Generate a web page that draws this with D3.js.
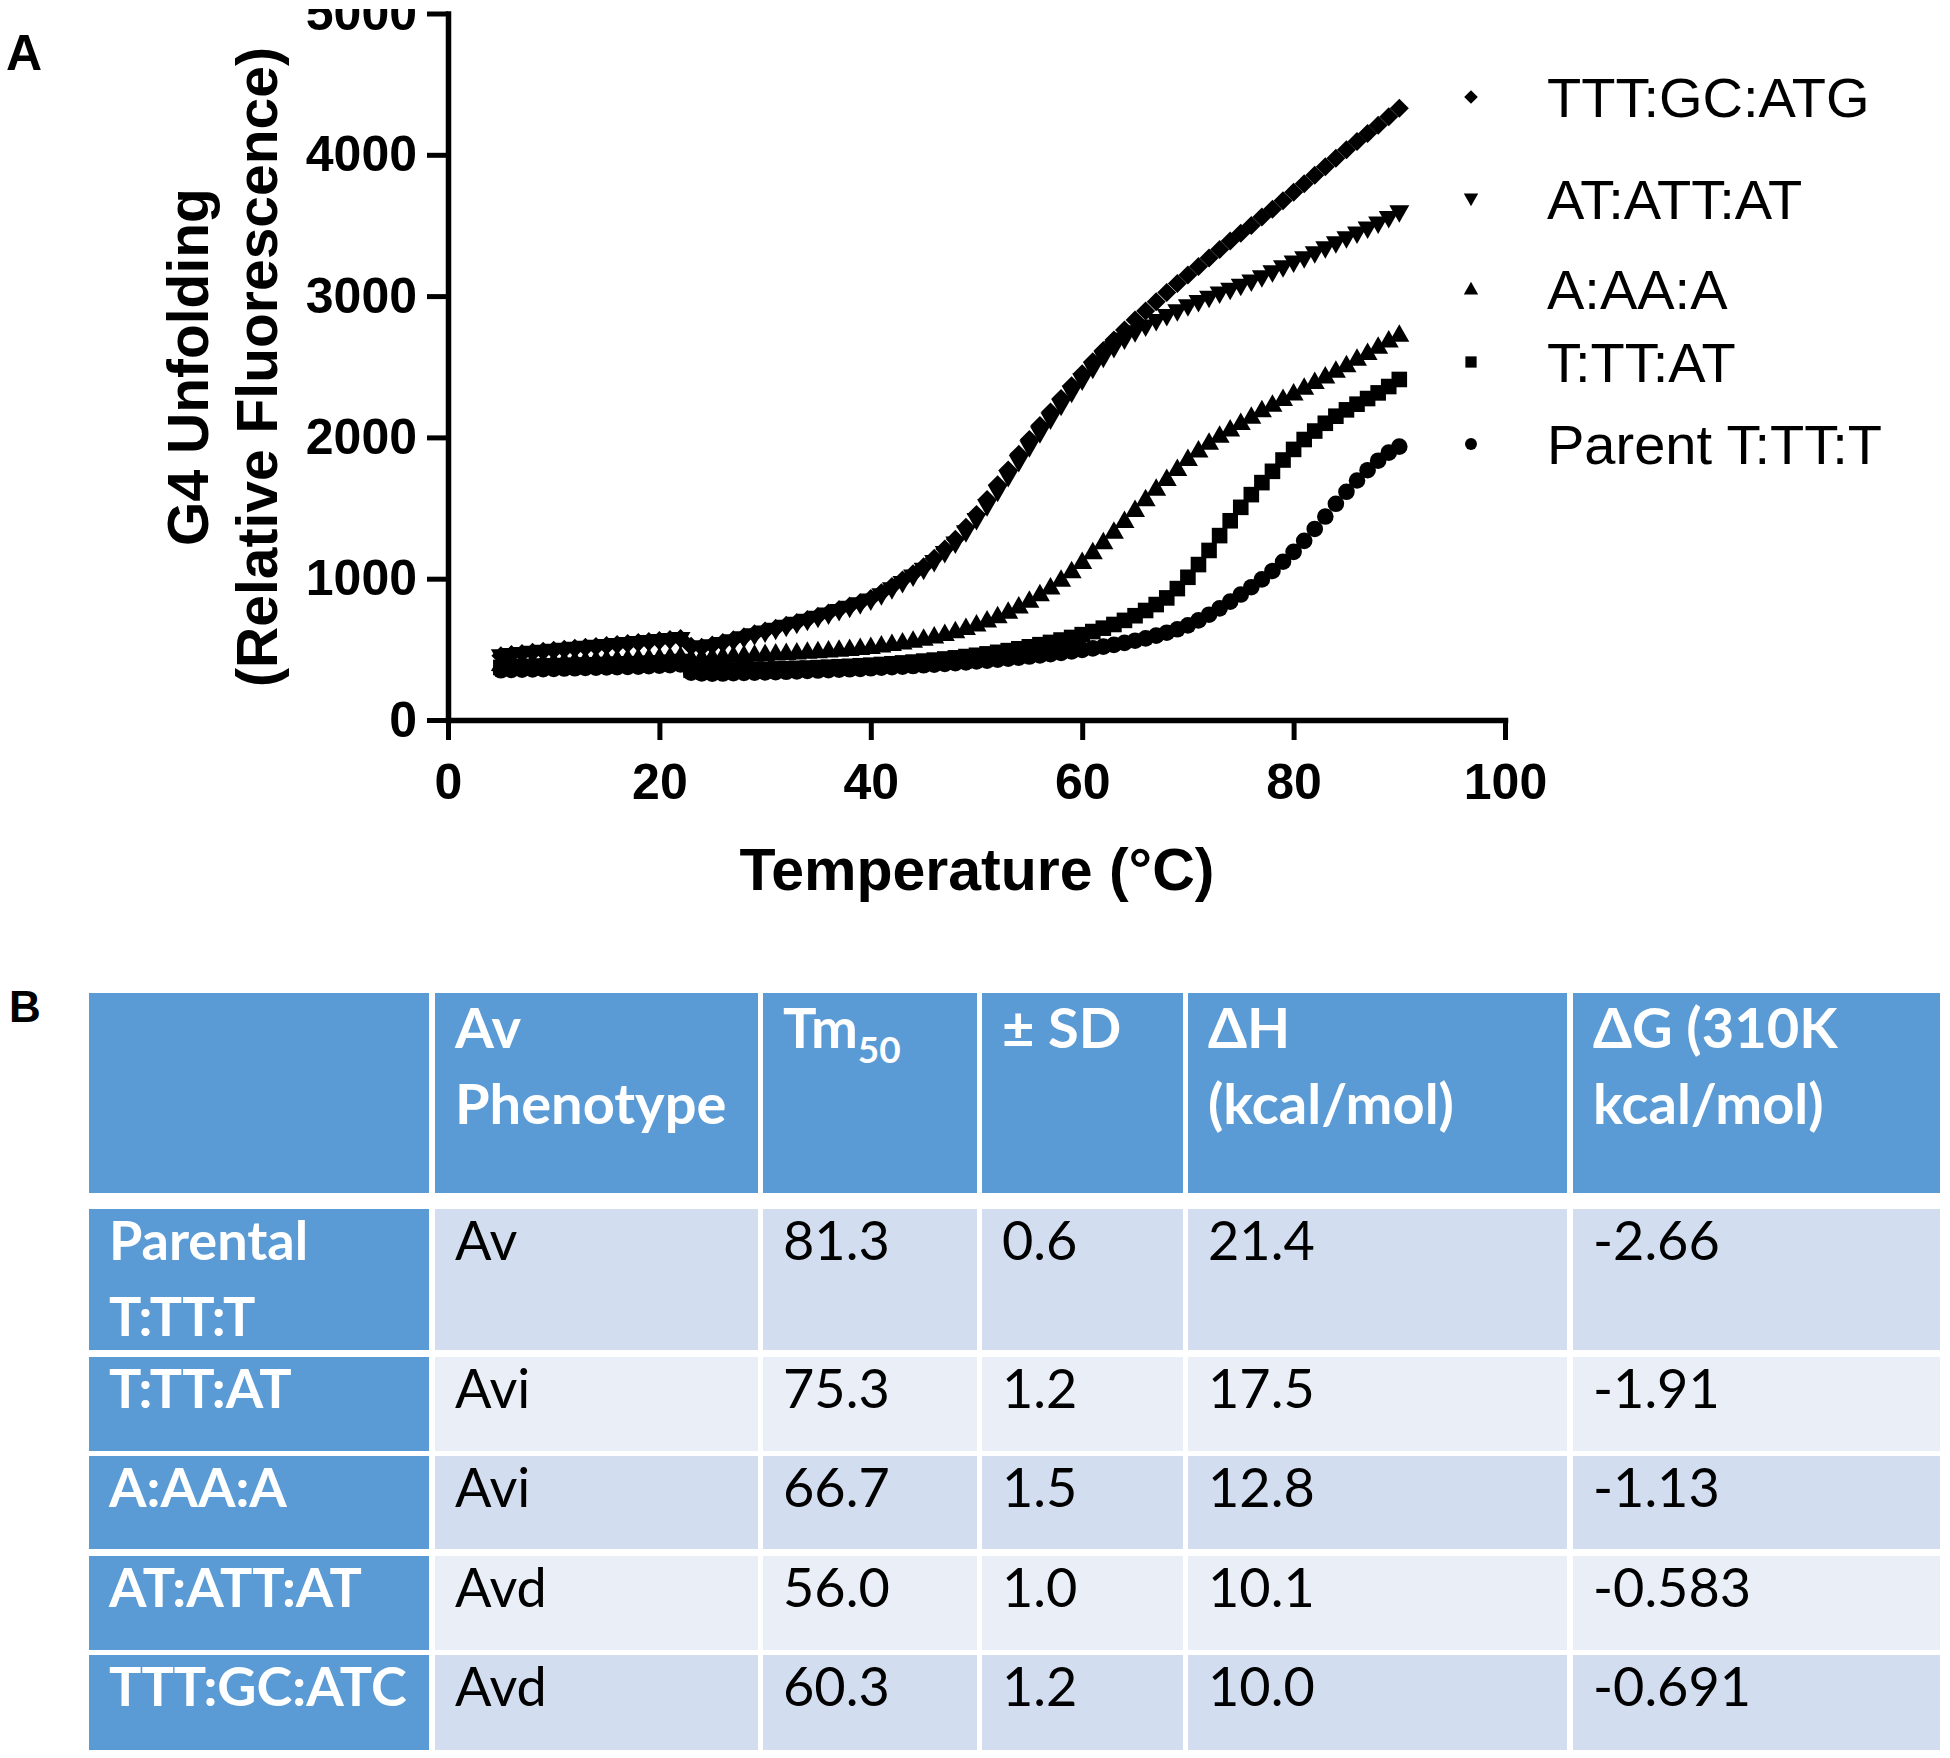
<!DOCTYPE html>
<html><head><meta charset="utf-8">
<script src="https://cdn.jsdelivr.net/npm/d3@7"></script>
<style>
html,body{margin:0;padding:0;background:#fff;}
svg{display:block;}
</style></head><body>
<svg id="chart" width="1950" height="1758"></svg>
<script>
// ---------------- DATA ----------------
const temps = [5,6,7,8,9,10,11,12,13,14,15,16,17,18,19,20,21,22,23,24,25,26,27,28,29,30,31,32,33,34,35,36,37,38,39,40,41,42,43,44,45,46,47,48,49,50,51,52,53,54,55,56,57,58,59,60,61,62,63,64,65,66,67,68,69,70,71,72,73,74,75,76,77,78,79,80,81,82,83,84,85,86,87,88,89,90];

const seriesNames = ["TTT:GC:ATG", "AT:ATT:AT", "A:AA:A", "T:TT:AT", "Parent T:TT:T"];
const seriesSymbols = ["diamond", "triangleDown", "triangleUp", "square", "circle"];

const tttGcAtg = [455,463,471,479,486,493,500,507,514,521,528,535,542,549,556,563,570,577,
  522,515,530,548,568,590,610,630,650,670,690,712,735,758,782,806,832,
  860,900,945,990,1035,1085,1145,1210,1280,1365,1455,1560,1665,1770,1880,1985,2085,2180,2275,2365,2450,2535,2615,2690,2760,2830,2895,2960,3025,3090,3150,3210,3270,3330,3390,3445,3500,3560,3615,3675,3735,3795,3855,3915,3975,4035,4095,4150,4210,4270,4330];

const atAttAt = [448,456,464,472,479,486,493,500,507,514,521,528,535,542,549,556,563,570,
  512,506,518,535,554,575,596,616,636,656,677,698,720,743,767,791,816,
  843,880,922,966,1012,1060,1115,1178,1246,1325,1412,1510,1612,1716,1822,1926,2026,2124,2220,2312,2400,2483,
  2560,2630,2690,2740,2782,2820,2855,2890,2925,2955,2985,3015,3042,3070,3100,3130,3165,3200,3235,3265,3300,3335,3370,3405,3440,3475,3510,3550,3590];

const aAaA = [400,404,407,410,413,416,419,422,425,428,431,434,437,440,443,446,450,455,
  440,445,450,454,458,462,466,470,474,478,482,486,490,495,500,506,513,520,530,541,552,564,
  578,594,612,632,655,680,707,737,770,807,848,893,942,996,1056,1121,1190,1262,1336,1412,1490,1565,1640,1710,1780,1850,1910,1965,2015,2060,2105,2150,2195,2235,2275,2315,2355,2395,2435,2475,2515,2560,2600,2645,2690,2730];

const tTtAt = [372,375,377,379,381,383,385,387,389,391,393,395,397,399,402,405,409,414,
  352,350,350,352,354,356,358,360,362,364,366,368,371,374,377,380,384,388,393,398,404,410,417,424,432,440,449,458,468,479,491,504,518,533,549,566,584,604,626,650,676,705,738,775,817,864,
  930,1010,1100,1200,1305,1410,1505,1595,1680,1760,1840,1915,1985,2045,2100,2150,2195,2235,2275,2315,2360,2410];

const parentTTtT = [352,354,356,358,360,362,364,366,368,370,372,374,376,378,381,384,388,393,
  335,330,328,329,331,333,335,337,339,341,344,347,350,353,356,359,362,366,370,374,378,382,387,392,397,402,408,414,420,427,434,441,449,457,466,475,485,496,507,519,532,546,561,578,597,618,642,
  670,705,745,790,838,888,940,995,1055,1120,1190,1268,1352,1440,1530,1615,1695,1768,1835,1892,1935];

const seriesValues = [tttGcAtg, atAttAt, aAaA, tTtAt, parentTTtT];

const xTicks = [0, 20, 40, 60, 80, 100];
const yTicks = [0, 1000, 2000, 3000, 4000, 5000];
const xTitle = "Temperature (°C)";
const yTitleLines = ["G4 Unfolding", "(Relative Fluorescence)"];

// table data
const tableHeaders = ["", "Av|Phenotype", "Tm_50", "± SD", "ΔH|(kcal/mol)", "ΔG (310K|kcal/mol)"];
const rowLabels = ["Parental|T:TT:T", "T:TT:AT", "A:AA:A", "AT:ATT:AT", "TTT:GC:ATC"];
const phenotypes = ["Av", "Avi", "Avi", "Avd", "Avd"];
const tm50 = ["81.3", "75.3", "66.7", "56.0", "60.3"];
const sdVals = ["0.6", "1.2", "1.5", "1.0", "1.2"];
const dH = ["21.4", "17.5", "12.8", "10.1", "10.0"];
const dG = ["-2.66", "-1.91", "-1.13", "-0.583", "-0.691"];

// ---------------- DRAW ----------------
const svg = d3.select("#chart");
const AX = "'Liberation Sans', Arial, Helvetica, sans-serif";
const TB = "Lato, 'Open Sans', sans-serif";

const x = d3.scaleLinear().domain([0, 100]).range([448, 1505]);
const y = d3.scaleLinear().domain([0, 5000]).range([720, 13.5]);

// panel labels
svg.append("text").attr("x", 6).attr("y", 70).text("A")
  .attr("font-family", AX).attr("font-weight", "bold").attr("font-size", 50).attr("fill", "#000");
svg.append("text").attr("x", 9).attr("y", 1022).text("B")
  .attr("font-family", AX).attr("font-weight", "bold").attr("font-size", 44).attr("fill", "#000");

// axes
const gx = svg.append("g").attr("transform", "translate(0,720)")
  .call(d3.axisBottom(x).tickValues(xTicks).tickSize(20).tickSizeOuter(0).tickPadding(23).tickFormat(d3.format("d")));
const gy = svg.append("g").attr("transform", "translate(448,0)")
  .call(d3.axisLeft(y).tickValues(yTicks).tickSize(21).tickSizeOuter(0).tickPadding(10).tickFormat(d3.format("d")));
[gx, gy].forEach(g => {
  g.selectAll(".domain").attr("stroke", "#000").attr("stroke-width", 5.5).attr("stroke-linecap", "square");
  g.selectAll(".tick line").attr("stroke", "#000").attr("stroke-width", 5);
  g.selectAll(".tick text").attr("font-family", AX).attr("font-weight", "bold")
    .attr("font-size", 50).attr("fill", "#000");
});
// the reference image is trimmed just above the top tick label
svg.append("rect").attr("x", 280).attr("y", 0).attr("width", 150).attr("height", 9).attr("fill", "#fff");

// axis titles
svg.append("text").attr("x", 977).attr("y", 890).attr("text-anchor", "middle")
  .attr("font-family", AX).attr("font-weight", "bold").attr("font-size", 59).text(xTitle);
[208, 277].forEach((bx, i) => {
  svg.append("text").attr("transform", `translate(${bx},367) rotate(-90)`)
    .attr("text-anchor", "middle").attr("font-family", AX).attr("font-weight", "bold")
    .attr("font-size", 57).text(yTitleLines[i]);
});

// symbols
const symTypes = {
  diamond: { draw(c, s) { c.moveTo(0, -s); c.lineTo(s, 0); c.lineTo(0, s); c.lineTo(-s, 0); c.closePath(); } },
  triangleUp: { draw(c, s) { c.moveTo(0, -s); c.lineTo(s, s * 0.75); c.lineTo(-s, s * 0.75); c.closePath(); } },
  triangleDown: { draw(c, s) { c.moveTo(0, s); c.lineTo(s, -s * 0.75); c.lineTo(-s, -s * 0.75); c.closePath(); } },
  square: { draw(c, s) { c.rect(-s, -s, 2 * s, 2 * s); } },
  circle: { draw(c, s) { c.moveTo(s, 0); c.arc(0, 0, s, 0, 2 * Math.PI); } }
};
const symSize = { diamond: 9.5, triangleUp: 10, triangleDown: 10, square: 7.8, circle: 8.3 };

const plot = svg.append("g");
seriesValues.forEach((vals, si) => {
  const key = seriesSymbols[si];
  const gen = d3.symbol().type(symTypes[key]).size(symSize[key]);
  plot.append("g").selectAll("path")
    .data(temps.map((t, i) => [t, vals[i]]))
    .join("path")
    .attr("d", gen)
    .attr("transform", d => `translate(${x(d[0])},${y(d[1])})`)
    .attr("fill", "#000");
});

// legend
const legY = [97, 199, 289, 362, 444];
const leg = svg.append("g");
seriesNames.forEach((name, i) => {
  const key = seriesSymbols[i];
  leg.append("path").attr("d", d3.symbol().type(symTypes[key]).size(symSize[key] * 0.72)())
    .attr("transform", `translate(1471,${legY[i]})`).attr("fill", "#000");
  leg.append("text").attr("x", 1547).attr("y", legY[i] + 20)
    .attr("font-family", AX).attr("font-size", 56).attr("fill", "#000").text(name);
});

// ---------------- TABLE ----------------
const colEdges = [[89, 429], [435, 758], [763, 977], [982, 1183], [1188, 1567], [1573, 1940]];
const headerBox = [993, 1193];
const rowBoxes = [[1209, 1350], [1357, 1451], [1456, 1549], [1556, 1650], [1655, 1750]];
const BLUE = "#5B9BD5", ROW_A = "#D2DEEF", ROW_B = "#EAEFF7";
const tbl = svg.append("g");
const padL = 20, lineH = 76;

function cellText(g, str, x0, yBase, color, weight, fs) {
  str.split("|").forEach((line, li) => {
    const t = g.append("text").attr("x", x0).attr("y", yBase + li * lineH)
      .attr("font-family", TB).attr("font-size", fs).attr("font-weight", weight).attr("fill", color);
    if (line.includes("_")) {
      const [a, b] = line.split("_");
      t.append("tspan").text(a);
      t.append("tspan").attr("font-size", 37).attr("dy", 15).text(b);
    } else t.text(line);
  });
}

// header
tableHeaders.forEach((h, ci) => {
  tbl.append("rect").attr("x", colEdges[ci][0]).attr("y", headerBox[0])
    .attr("width", colEdges[ci][1] - colEdges[ci][0]).attr("height", headerBox[1] - headerBox[0]).attr("fill", BLUE);
  if (h) cellText(tbl, h, colEdges[ci][0] + padL, headerBox[0] + 55, "#fff", "bold", 56);
});

// body
const bodyCols = [rowLabels, phenotypes, tm50, sdVals, dH, dG];
rowBoxes.forEach((rb, ri) => {
  bodyCols.forEach((col, ci) => {
    const fill = ci === 0 ? BLUE : (ri % 2 === 0 ? ROW_A : ROW_B);
    tbl.append("rect").attr("x", colEdges[ci][0]).attr("y", rb[0])
      .attr("width", colEdges[ci][1] - colEdges[ci][0]).attr("height", rb[1] - rb[0]).attr("fill", fill);
    cellText(tbl, col[ri], colEdges[ci][0] + padL, rb[0] + 51,
      ci === 0 ? "#fff" : "#000", ci === 0 ? "bold" : "normal", 54);
  });
});
</script>
</body></html>
